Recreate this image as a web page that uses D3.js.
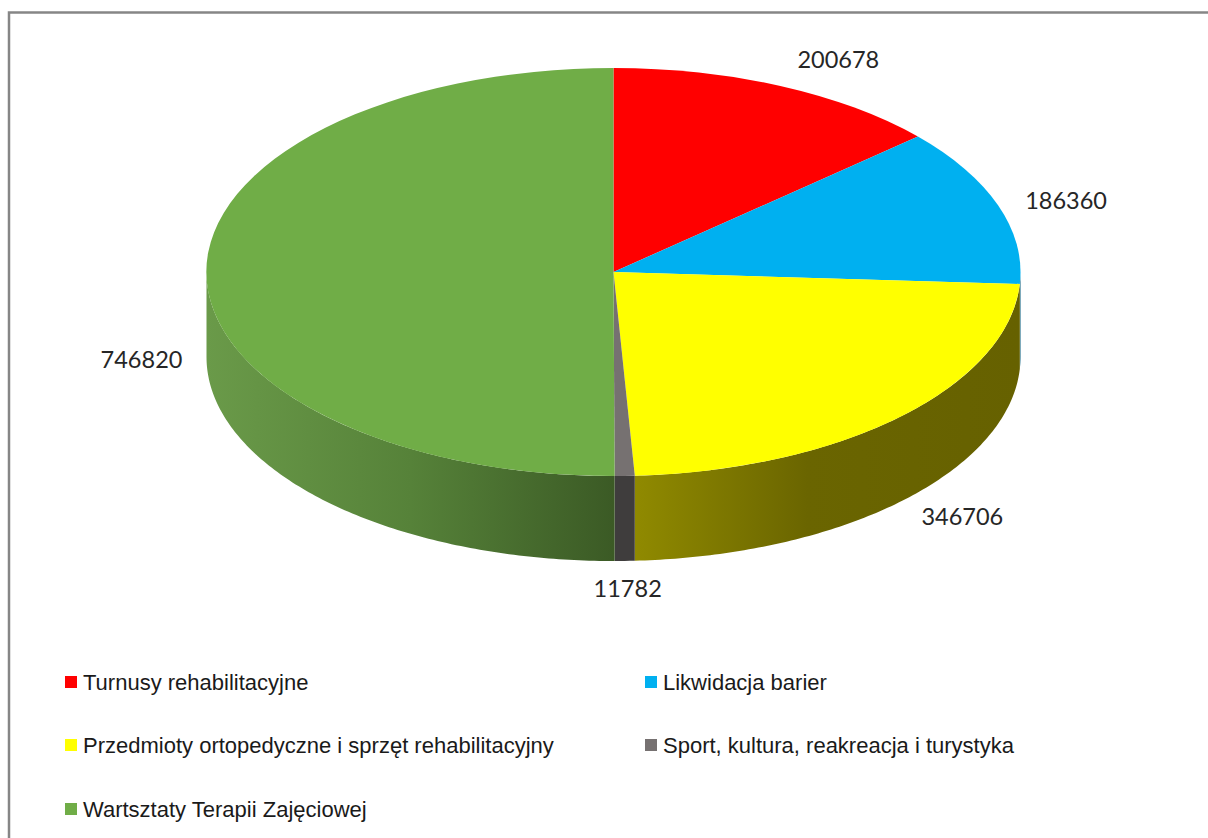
<!DOCTYPE html>
<html>
<head>
<meta charset="utf-8">
<script src="https://cdn.jsdelivr.net/npm/d3@7"></script>
<style>
    body { margin: 0; background: white; }
    svg { display: block; }
    .value-label { font-family: Lato, sans-serif; font-size: 23.5px; fill: #262626; text-anchor: middle; }
    .legend-label { font-family: "Liberation Sans", Arial, sans-serif; font-size: 22px; fill: #1a1a1a; }
</style>
</head>
<body>
<div id="chart-area"></div>
<script>
const categories = [
    "Turnusy rehabilitacyjne",
    "Likwidacja barier",
    "Przedmioty ortopedyczne i sprzęt rehabilitacyjny",
    "Sport, kultura, reakreacja i turystyka",
    "Wartsztaty Terapii Zajęciowej"
];
const values = [200678, 186360, 346706, 11782, 746820];
const topColors = ["#ff0000", "#00b0f0", "#ffff00", "#767171", "#70ad47"];

const width = 1208, height = 838;
const cx = 613.5, cy = 272, rx = 407, ry = 204, depth = 85;

// label offset from the rim point at each slice's middle angle
const labelOffsets = [[58, -26], [68, -4], [62, 100], [3, 113], [-65, 87]];

// wall shading, left to right, one set per slice
const wallStops = [
    [[0, "#7f0000"], [1, "#7f0000"]],
    [[0, "#00587a"], [1, "#00587a"]],
    [[0, "#908a00"], [0.45, "#6a6500"], [1, "#666100"]],
    [[0, "#3f3d3d"], [1, "#3f3d3d"]],
    [[0, "#6a9a49"], [0.5, "#568239"], [1, "#3b5a25"]]
];

const legendCols = [65, 645];
const legendRows = [682, 745, 809];

let svg = d3.select("#chart-area").append("svg")
    .attr("width", width)
    .attr("height", height);

let x = d3.scaleLinear().domain([-1, 1]).range([cx - rx, cx + rx]);
let y = d3.scaleLinear().domain([-1, 1]).range([cy - ry, cy + ry]);

let pie = d3.pie().sort(null).value(d => d);
let slices = pie(values);

// frame, only the top and left edges are inside the picture
svg.append("path")
    .attr("d", "M9," + height + "V12.5H" + width)
    .attr("fill", "none")
    .attr("stroke", "#868686")
    .attr("stroke-width", 2.5);

let defs = svg.append("defs");
let rim = d3.line().x(d => d[0]).y(d => d[1]);

function rimPoints(a0, a1, offset) {
    let steps = Math.max(2, Math.ceil((a1 - a0) * 80));
    return d3.range(steps + 1).map(i => {
        let a = a0 + (a1 - a0) * i / steps;
        return [x(Math.sin(a)), y(-Math.cos(a)) + offset];
    });
}

// walls first, only the part of each slice facing the viewer
slices.forEach(function (s, i) {
    let a0 = Math.max(s.startAngle, Math.PI / 2);
    let a1 = Math.min(s.endAngle, Math.PI * 1.5);
    if (a1 <= a0) return;

    let top = rimPoints(a0, a1, 0);
    let bottom = rimPoints(a0, a1, depth).reverse();
    let xs = top.map(p => p[0]);
    let x0 = d3.min(xs), x1 = d3.max(xs);

    // the green wall gets darker toward the front, like the yellow one
    let grad = defs.append("linearGradient")
        .attr("id", "wall-" + i)
        .attr("gradientUnits", "userSpaceOnUse")
        .attr("x1", x0).attr("x2", x1)
        .attr("y1", 0).attr("y2", 0);
    grad.selectAll("stop")
        .data(wallStops[i])
        .enter().append("stop")
        .attr("offset", d => d[0])
        .attr("stop-color", d => d[1]);

    svg.append("path")
        .attr("class", "wall")
        .attr("d", rim(top.concat(bottom)) + "Z")
        .attr("fill", "url(#wall-" + i + ")");
});

// top face, a unit circle arc squashed into the ellipse
let arc = d3.arc().innerRadius(0).outerRadius(rx);
svg.append("g")
    .attr("transform", "translate(" + cx + "," + cy + ") scale(1," + (ry / rx) + ")")
    .selectAll("path")
    .data(slices)
    .enter().append("path")
    .attr("d", arc)
    .attr("fill", (d, i) => topColors[i]);

// value labels
svg.selectAll(".value-label")
    .data(slices)
    .enter().append("text")
    .attr("class", "value-label")
    .attr("x", (d, i) => x(Math.sin((d.startAngle + d.endAngle) / 2)) + labelOffsets[i][0])
    .attr("y", (d, i) => y(-Math.cos((d.startAngle + d.endAngle) / 2)) + labelOffsets[i][1])
    .attr("dy", "0.35em")
    .text(d => d.value);

// legend
let legend = svg.selectAll(".legend-item")
    .data(categories)
    .enter().append("g")
    .attr("class", "legend-item")
    .attr("transform", (d, i) => "translate(" + legendCols[i % 2] + "," + legendRows[Math.floor(i / 2)] + ")");

legend.append("rect")
    .attr("y", -6)
    .attr("width", 12)
    .attr("height", 12)
    .attr("fill", (d, i) => topColors[i]);

legend.append("text")
    .attr("class", "legend-label")
    .attr("x", 18)
    .attr("dy", "0.35em")
    .text(d => d);
</script>
</body>
</html>
